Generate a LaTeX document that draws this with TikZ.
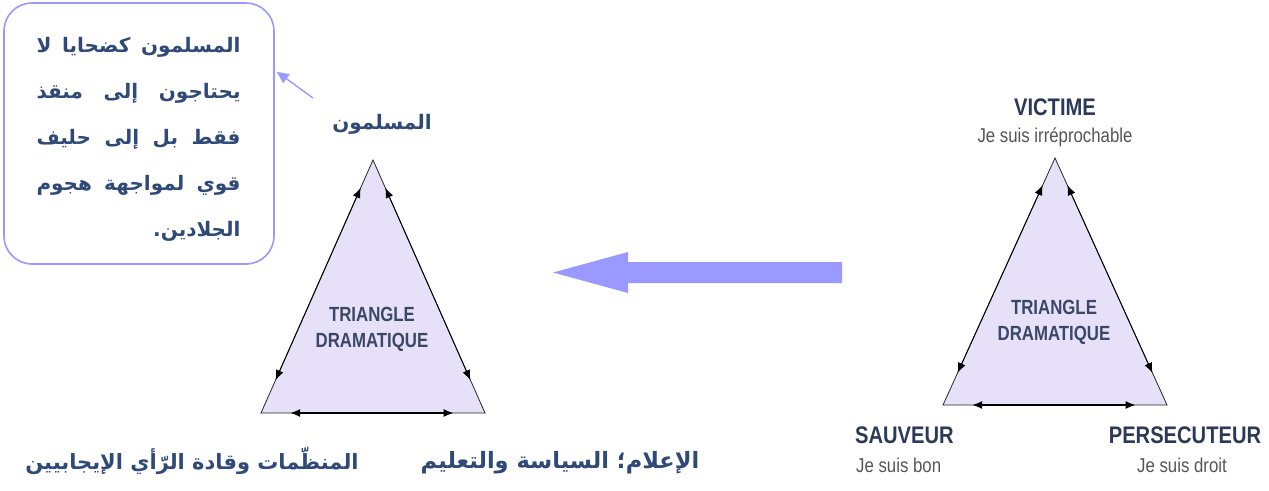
\documentclass[tikz,border=0pt]{standalone}
\usepackage{fontspec}
\setmainfont{Liberation Sans}
\newfontfamily\arabicfont[Script=Arabic]{DejaVu Sans}
\TeXXeTstate=1
\usetikzlibrary{arrows.meta,calc}

\definecolor{lav}{HTML}{E6E1F8}
\definecolor{callblue}{HTML}{9999FF}
\definecolor{arnavy}{HTML}{2F4A78}
\definecolor{slate}{HTML}{3B4766}
\definecolor{headnavy}{HTML}{2C3A58}
\definecolor{subgray}{HTML}{555555}

\tikzset{
  tri/.style={fill=lav, draw=black!85, line width=0.8pt, line join=miter},
  sidearrow/.style={draw=black, line width=0.9pt, {Latex[length=10pt,width=8pt]}-{Latex[length=10pt,width=8pt]}},
  basearrow/.style={draw=black, line width=1.6pt, {Latex[length=10pt,width=8pt]}-{Latex[length=10pt,width=8pt]}},
  tritext/.style={text=slate, font=\fontsize{20.5}{24}\selectfont\bfseries, xscale=0.82, align=center, inner sep=0pt},
  rolehead/.style={text=headnavy, font=\fontsize{24}{28}\selectfont\bfseries, xscale=0.84, inner sep=0pt},
  rolesub/.style={text=subgray, font=\fontsize{20}{24}\selectfont, xscale=0.84, inner sep=0pt},
  artext/.style={text=arnavy, font=\arabicfont\bfseries\fontsize{21}{26}\selectfont, inner sep=0pt},
  calltext/.style={text=arnavy, font=\arabicfont\bfseries\fontsize{20}{26}\selectfont, inner sep=0pt},
  callbox/.style={draw=callblue, line width=1.6pt, rounded corners=28pt, minimum width=270pt, minimum height=261pt, inner sep=0pt},
}

\begin{document}
\begin{tikzpicture}[x=1pt,y=-1pt]
\useasboundingbox (0,0) rectangle (1269,490);

% ---------- callout ----------
\node[callbox] (callout) at (139,133.5) {};
\node[calltext] (cl1) at (138.5,47) {\hbox to 204pt{\beginR المسلمون\hfill كضحايا\hfill لا\endR}};
\node[calltext] (cl2) at (138.5,93) {\hbox to 204pt{\beginR يحتاجون\hfill إلى\hfill منقذ\endR}};
\node[calltext] (cl3) at (138.5,139) {\hbox to 204pt{\beginR فقط\hfill بل\hfill إلى\hfill حليف\endR}};
\node[calltext] (cl4) at (138.5,185) {\hbox to 204pt{\beginR قوي\hfill لمواجهة\hfill هجوم\endR}};
\node[calltext] (cl5) at (138.5,231) {\hbox to 204pt{\hfill\beginR الجلادين.\endR}};
\coordinate (cfrom) at (313,98);
\draw[callblue, line width=1.4pt, -{Triangle[length=12pt,width=11pt]}] (cfrom) -- ($(callout.north east)!0.265!(callout.south east)+(2,0)$);

% ---------- left triangle ----------
\coordinate (LA) at (373,160);
\coordinate (LB) at (261,413);
\coordinate (LC) at (485,413);
\draw[tri] (LA) -- (LB) -- (LC) -- cycle;
\draw[sidearrow] ($(LA)!0.11!(LB)$) -- ($(LA)!0.87!(LB)$);
\draw[sidearrow] ($(LA)!0.11!(LC)$) -- ($(LA)!0.87!(LC)$);
\draw[basearrow] ($(LB)!0.13!(LC)$) -- ($(LB)!0.86!(LC)$);
\node[tritext] (ltt) at (372,329) {TRIANGLE\\[2pt]DRAMATIQUE};

\node[artext, font=\arabicfont\bfseries\fontsize{20}{24}\selectfont] (lapex) at (382,124) {\beginR المسلمون\endR};
\node[artext] (lleft) at (192,461) {\beginR المنظّمات وقادة الرّأي الإيجابيين\endR};
\node[artext, font=\arabicfont\bfseries\fontsize{22.5}{26}\selectfont] (lright) at (560,463) {\beginR الإعلام؛ السياسة والتعليم\endR};

% ---------- transition arrow (block arrow) ----------
\coordinate (bigfrom) at (842,272.5);
\coordinate (bigto) at (553,272.5);
\fill[callblue] (bigfrom) ++(0,-10.5) -- (628,262) -- (628,252) -- (bigto)
  -- (628,293) -- (628,283) -- ($(bigfrom)+(0,10.5)$) -- cycle;

% ---------- right triangle ----------
\coordinate (RA) at (1055,158);
\coordinate (RB) at (943,405);
\coordinate (RC) at (1167,405);
\draw[tri] (RA) -- (RB) -- (RC) -- cycle;
\draw[sidearrow] ($(RA)!0.11!(RB)$) -- ($(RA)!0.87!(RB)$);
\draw[sidearrow] ($(RA)!0.11!(RC)$) -- ($(RA)!0.87!(RC)$);
\draw[basearrow] ($(RB)!0.13!(RC)$) -- ($(RB)!0.86!(RC)$);
\node[tritext] (rtt) at (1054,322) {TRIANGLE\\[2pt]DRAMATIQUE};

\node[rolehead] (victim) at (1055,107) {VICTIME};
\node[rolesub] (victimsub) at (1055,137) {Je suis irréprochable};
\node[rolehead, anchor=west] (saviour) at (855,435) {SAUVEUR};
\node[rolesub, anchor=west] (savioursub) at (856,465) {Je suis bon};
\node[rolehead] (persec) at (1185,435) {PERSECUTEUR};
\node[rolesub] (persecsub) at (1182,465) {Je suis droit};
\end{tikzpicture}
\end{document}
